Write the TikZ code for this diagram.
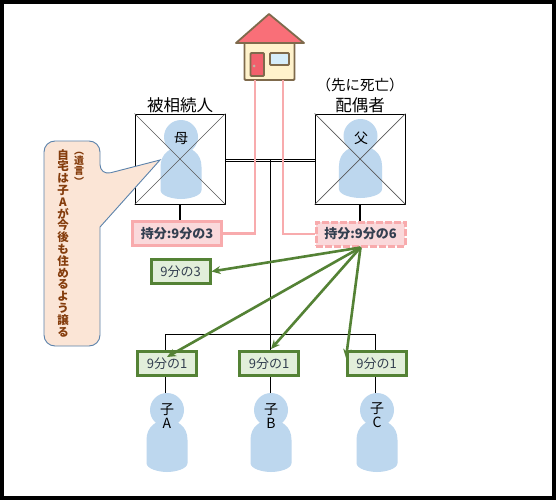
\documentclass[tikz,border=0pt]{standalone}
\usepackage{fontspec}
\setmainfont{Noto Sans CJK JP}
\usepackage{tikz}
\usetikzlibrary{arrows.meta, calc}

\definecolor{bodyblue}{HTML}{BDD7EE}
\definecolor{pinkln}{HTML}{F8ABAD}
\definecolor{pinkfill}{HTML}{FAD9DB}
\definecolor{grnln}{HTML}{548235}
\definecolor{grnfill}{HTML}{E2EFDA}
\definecolor{notefill}{HTML}{FBE5D6}
\definecolor{noteln}{HTML}{5B82AB}
\definecolor{notetxt}{HTML}{843C0C}
\definecolor{sharetxt}{HTML}{333F50}
\definecolor{housebrn}{HTML}{7F6A4C}
\definecolor{roofred}{HTML}{F96F78}
\definecolor{wallyel}{HTML}{FFF2CC}
\definecolor{doorred}{HTML}{F2606C}
\definecolor{winblue}{HTML}{D6EDFA}

\begin{document}
\begin{tikzpicture}[
  x=1pt, y=-1pt,
  font=\fontsize{14}{14}\selectfont,
  crossbox/.style ={rectangle, draw=black, line width=0.9pt, fill=white,
                    minimum width=90pt, minimum height=90pt, inner sep=0pt},
  crossln/.style  ={draw=black!65, line width=0.7pt},
  head/.style     ={circle, fill=bodyblue, minimum size=34pt, inner sep=0pt},
  mshare/.style   ={rectangle, draw=pinkln, fill=pinkfill, line width=3pt, text=sharetxt,
                    font=\bfseries\fontsize{13}{14}\selectfont,
                    minimum width=89pt, minimum height=24pt, inner sep=0pt},
  fshare/.style   ={mshare, dash pattern=on 7pt off 2pt},
  part/.style     ={rectangle, draw=grnln, fill=grnfill, line width=3pt, text=sharetxt,
                    font=\fontsize{13}{14}\selectfont,
                    minimum width=59pt, minimum height=24pt, inner sep=0pt},
  lbl/.style      ={inner sep=0pt, align=center},
  stem/.style     ={draw=black, line width=0.9pt},
  stemb/.style    ={draw=black, line width=1.5pt},
  pinkarr/.style  ={draw=pinkln, line width=2.6pt},
  arr/.style      ={-{Stealth[length=9pt, width=8pt]}, draw=grnln, fill=grnln, line width=2.6pt},
  person/.pic={
    \fill[bodyblue] (-20.5,30) .. controls (-20.5,16) and (-10,10) .. (0,10)
      .. controls (10,10) and (20.5,16) .. (20.5,30) -- (20.5,53)
      .. controls (20.5,59) and (8,62) .. (0,62)
      .. controls (-8,62) and (-20.5,59) .. (-20.5,53) -- cycle;
    \node[head] (-h) at (0,0) {};
  },
]

% --- Frame ---
\fill[black] (0,0) rectangle (556,500);
\fill[white] (4,4) rectangle (552,496);

% --- House ---
\node[rectangle, draw=housebrn, fill=wallyel, line width=1.8pt, rounded corners=1pt,
      minimum width=50pt, minimum height=38pt] (house) at (269.5,61) {};
\draw[housebrn, fill=roofred, line width=1.8pt, line join=round] (269,14) -- (304,43) -- (236,43) -- cycle;
\draw[housebrn, fill=doorred, line width=1.8pt, rounded corners=1pt] (250.5,53) rectangle (264,76);
\fill[housebrn!50] (254,66) circle[radius=1.5];
\draw[housebrn, fill=winblue, line width=1.8pt, rounded corners=1pt] (270,53) rectangle (289,65);
\coordinate (hl) at (255,80);
\coordinate (hr) at (283,80);

% --- Parents ---
\node[crossbox] (mbox) at (180,159) {};
\node[crossbox] (fbox) at (360,159) {};
\pic (mom) at (181,137) {person};
\pic[xscale=1.05] (dad) at (360.5,136) {person};
\draw[crossln] (mbox.north west) -- (mbox.south east);
\draw[crossln] (mbox.north east) -- (mbox.south west);
\draw[crossln] (fbox.north west) -- (fbox.south east);
\draw[crossln] (fbox.north east) -- (fbox.south west);
\node[lbl] (momt) at (181,139) {母};
\node[lbl] (dadt) at (361,138) {父};
\node[lbl, font=\fontsize{16.5}{18}\selectfont] (mtit) at (180,105) {被相続人};
\node[lbl, font=\fontsize{16.5}{18}\selectfont] (ftit) at (360,105) {配偶者};
\node[lbl, font=\fontsize{14.5}{16}\selectfont] (fnote) at (360,85) {（先に死亡）};

% --- Shares ---
\node[mshare] (msh) at (177,233.5) {持分:9分の3};
\node[fshare] (fsh) at (360.5,234) {持分:9分の6};
\node[part] (p3) at (180.5,271.5) {9分の3};
\node[part] (pa) at (167,363.5) {9分の1};
\node[part] (pb) at (269,363.5) {9分の1};
\node[part] (pc) at (376.5,363.5) {9分の1};

% --- Children ---
\pic (cha) at (167,410) {person};
\pic (chb) at (271,410) {person};
\pic (chc) at (377,410) {person};
\node[lbl] (cta) at (167,416) {子\\A};
\node[lbl] (ctb) at (271,416) {子\\B};
\node[lbl] (ctc) at (377,415) {子\\C};

% --- Family lines ---
\coordinate (mid) at (270,160);
\coordinate (rowl) at (165.5,334.5);
\coordinate (rowr) at (375.6,334.5);
\draw[stem] ($(mbox.east)+(0,0)$) -- ($(fbox.west)+(0,0)$);
\draw[stem] ($(mbox.east)+(0,2)$) -- ($(fbox.west)+(0,2)$);
\draw[stemb] (mbox.south) -- (mbox.south |- msh.north);
\draw[stemb] (fbox.south) -- (fbox.south |- fsh.north);
\draw[stem] (mid) -- (mid |- pb.north);
\draw[stem] (rowl |- pa.north) -- (rowl) -- (rowr) -- (rowr |- pc.north);
\draw[stem] (rowl |- pa.south) -- (rowl |- cha-h.north);
\draw[stem] (mid |- pb.south) -- (mid |- chb-h.north);
\draw[stem] (rowr |- pc.south) -- (rowr |- chc-h.north);

% --- House to shares ---
\draw[pinkarr] (hl) |- (msh.east);
\draw[pinkarr] (hr) |- (fsh.west);

% --- Arrows ---
\coordinate (tipa) at (167,357);
\coordinate (tipb) at (271,349);
\coordinate (tipc) at (346,358);
\draw[arr] (fsh.south) -- (p3.east);
\draw[arr] (fsh.south) -- (tipa);
\draw[arr] (fsh.south) -- (tipb);
\draw[arr] (fsh.south) -- (tipc);

% --- Note ---
\draw[noteln, fill=notefill, line width=0.9pt, rounded corners=11pt]
  (44,141) -- (100,141) -- (100,175.5) [sharp corners] -- (160,160) -- (100,227) [rounded corners=11pt]
  -- (100,346) -- (44,346) -- cycle;
\node[lbl, text=notetxt, font=\bfseries\fontsize{11.5}{11.8}\selectfont, anchor=north] (will) at (63,149)
  {自\\宅\\は\\子\\A\\が\\今\\後\\も\\住\\め\\る\\よ\\う\\譲\\る};
\node[lbl, text=notetxt, font=\bfseries\fontsize{10}{10.2}\selectfont, anchor=north] (willt) at (79,152)
  {︵\\遺\\言\\︶};
\end{tikzpicture}
\end{document}
